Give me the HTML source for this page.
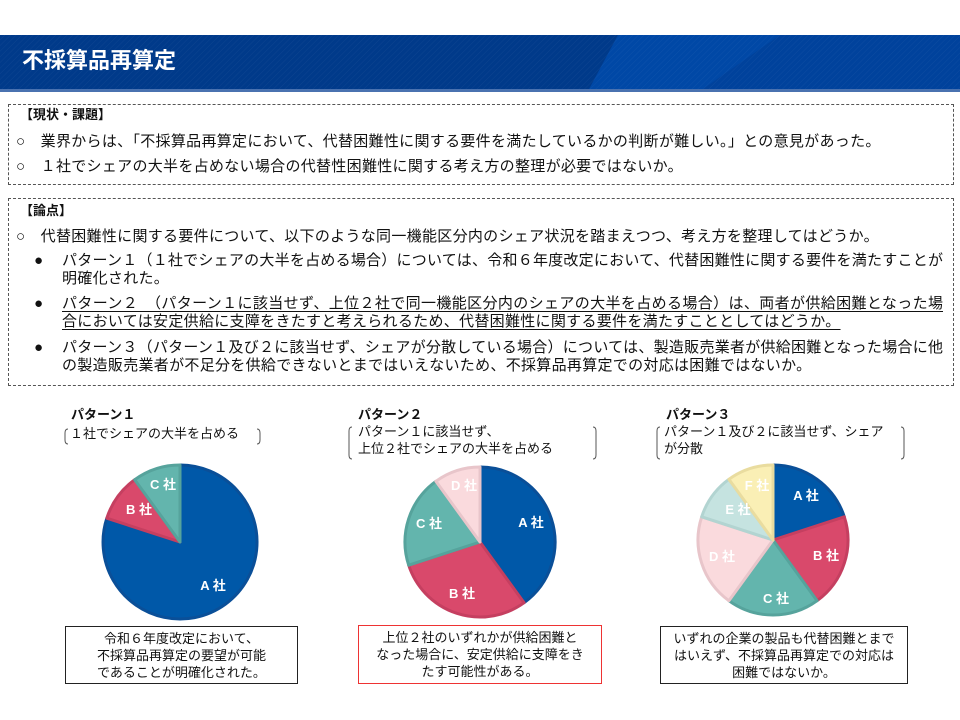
<!DOCTYPE html>
<html><head><meta charset="utf-8"><style>
body{margin:0;width:960px;height:720px;background:#fff;position:relative;overflow:hidden;font-family:"Liberation Sans","Noto Sans CJK JP",sans-serif;color:#111}
.a{position:absolute;white-space:nowrap;line-height:18px}
.t{font-size:15px;letter-spacing:0.3px}
.j{text-align:justify;text-align-last:justify;white-space:normal;letter-spacing:0}
.h{font-size:13px;font-weight:bold}
.u{text-decoration:underline;text-underline-offset:3px}
.box{position:absolute;border:1px dashed #555}
.bb{position:absolute;border:1.5px solid #222;font-size:13px;line-height:17px;text-align:center;display:flex;align-items:center;justify-content:center}
.pt{font-size:13px;font-weight:bold}
.ps{font-size:13px;line-height:17px}
</style></head><body>
<svg style="position:absolute;left:0;top:0" width="960" height="100">
<defs><pattern id="st" width="4" height="4" patternUnits="userSpaceOnUse" patternTransform="rotate(45)"><rect width="4" height="4" fill="none"/><line x1="0" y1="0" x2="0" y2="4" stroke="#ffffff" stroke-opacity="0.05" stroke-width="1"/></pattern></defs>
<rect x="0" y="35" width="960" height="56" fill="#003a8a"/>
<polygon points="618,35 960,35 960,91 588,91" fill="#0048a6"/>
<polygon points="780,35 960,35 960,91 700,91" fill="#003f96" opacity="0.6"/>
<rect x="0" y="35" width="960" height="56" fill="url(#st)"/>
<rect x="0" y="89" width="960" height="3" fill="#4a72b0"/>
</svg>
<div class="a" style="left:22px;top:48px;font-size:22px;line-height:26px;font-weight:bold;color:#fff">不採算品再算定</div>

<div class="box" style="left:8px;top:104px;width:944px;height:79px"></div>
<div class="a h" style="left:20px;top:106px">【現状・課題】</div>
<div class="a t" style="left:16px;top:133px">○　業界からは、「不採算品再算定において、代替困難性に関する要件を満たしているかの判断が難しい。」との意見があった。</div>
<div class="a t" style="left:16px;top:158px">○　１社でシェアの大半を占めない場合の代替性困難性に関する考え方の整理が必要ではないか。</div>

<div class="box" style="left:8px;top:198px;width:944px;height:186px"></div>
<div class="a h" style="left:20px;top:202px">【論点】</div>
<div class="a t" style="left:16px;top:228px">○　代替困難性に関する要件について、以下のような同一機能区分内のシェア状況を踏まえつつ、考え方を整理してはどうか。</div>
<div class="a t" style="left:34px;top:252px">●</div>
<div class="a t j" style="left:62px;top:252px;width:881px">パターン１（１社でシェアの大半を占める場合）については、令和６年度改定において、代替困難性に関する要件を満たすことが</div>
<div class="a t" style="left:62px;top:270px">明確化された。</div>
<div class="a t" style="left:34px;top:295px">●</div>
<div class="a t j u" style="left:62px;top:295px;width:881px">パターン２　（パターン１に該当せず、上位２社で同一機能区分内のシェアの大半を占める場合）は、両者が供給困難となった場</div>
<div class="a t u" style="left:62px;top:313px">合においては安定供給に支障をきたすと考えられるため、代替困難性に関する要件を満たすこととしてはどうか。</div>
<div class="a t" style="left:34px;top:339px">●</div>
<div class="a t j" style="left:62px;top:339px;width:881px">パターン３（パターン１及び２に該当せず、シェアが分散している場合）については、製造販売業者が供給困難となった場合に他</div>
<div class="a t" style="left:62px;top:357px">の製造販売業者が不足分を供給できないとまではいえないため、不採算品再算定での対応は困難ではないか。</div>

<div class="a pt" style="left:71px;top:406px">パターン１</div>
<div class="a ps" style="left:70px;top:425px">１社でシェアの大半を占める</div>
<div class="a pt" style="left:358px;top:406px">パターン２</div>
<div class="a ps" style="left:358px;top:423px">パターン１に該当せず、<br>上位２社でシェアの大半を占める</div>
<div class="a pt" style="left:666px;top:406px">パターン３</div>
<div class="a ps" style="left:664px;top:423px">パターン１及び２に該当せず、シェア<br>が分散</div>

<svg style="position:absolute;left:0;top:0" width="960" height="720">
<g fill="none" stroke="#555" stroke-width="1">
<path d="M68,429 Q65,429 65,433 L65,440 Q65,444 68,444"/>
<path d="M257,429 Q260,429 260,433 L260,440 Q260,444 257,444"/>
<path d="M352,427 Q349,427 349,431 L349,455 Q349,459 352,459"/>
<path d="M593,427 Q596,427 596,431 L596,455 Q596,459 593,459"/>
<path d="M660,427 Q657,427 657,431 L657,455 Q657,459 660,459"/>
<path d="M901,427 Q904,427 904,431 L904,455 Q904,459 901,459"/>
</g>
<g stroke-width="3" stroke-linejoin="round">
<path d="M180,542 L180,465 A77,77 0 1 1 106.8,518.2 Z" fill="#0058a8" stroke="#0a4f98"/>
<path d="M180,542 L106.8,518.2 A77,77 0 0 1 134.7,479.7 Z" fill="#d9496b" stroke="#c53f60"/>
<path d="M180,542 L134.7,479.7 A77,77 0 0 1 180,465 Z" fill="#63b5ad" stroke="#56a39c"/>
<path d="M480,542 L480,467 A75,75 0 0 1 524.1,602.7 Z" fill="#0058a8" stroke="#0a4f98"/>
<path d="M480,542 L524.1,602.7 A75,75 0 0 1 408.7,565.2 Z" fill="#d9496b" stroke="#c53f60"/>
<path d="M480,542 L408.7,565.2 A75,75 0 0 1 435.9,481.3 Z" fill="#63b5ad" stroke="#56a39c"/>
<path d="M480,542 L435.9,481.3 A75,75 0 0 1 480,467 Z" fill="#fadadd" stroke="#e8c5ca"/>
<path d="M773,540 L773,465 A75,75 0 0 1 844.3,516.8 Z" fill="#0058a8" stroke="#0a4f98"/>
<path d="M773,540 L844.3,516.8 A75,75 0 0 1 817.1,600.7 Z" fill="#d9496b" stroke="#c53f60"/>
<path d="M773,540 L817.1,600.7 A75,75 0 0 1 728.9,600.7 Z" fill="#63b5ad" stroke="#56a39c"/>
<path d="M773,540 L728.9,600.7 A75,75 0 0 1 701.7,516.8 Z" fill="#fadadd" stroke="#e8c5ca"/>
<path d="M773,540 L701.7,516.8 A75,75 0 0 1 728.9,479.3 Z" fill="#c5e3e0" stroke="#b2d4d1"/>
<path d="M773,540 L728.9,479.3 A75,75 0 0 1 773,465 Z" fill="#faefb5" stroke="#e9dc9f"/>
</g>
<g fill="#fff" font-size="13" font-weight="bold" font-family="Liberation Sans, Noto Sans CJK JP, sans-serif" text-anchor="middle">
<text x="213" y="590">A 社</text><text x="139" y="514">B 社</text><text x="163" y="489">C 社</text>
<text x="531" y="527">A 社</text><text x="462" y="598">B 社</text><text x="429" y="528">C 社</text><text x="464" y="490">D 社</text>
<text x="806" y="500">A 社</text><text x="826" y="560">B 社</text><text x="776" y="603">C 社</text><text x="722" y="561">D 社</text><text x="738" y="514">E 社</text><text x="757" y="490">F 社</text>
</g>
</svg>

<div class="bb" style="left:65px;top:626px;width:231px;height:56px">令和６年度改定において、<br>不採算品再算定の要望が可能<br>であることが明確化された。</div>
<div class="bb" style="left:358px;top:625px;width:242px;height:57px;border-color:#e33">上位２社のいずれかが供給困難と<br>なった場合に、安定供給に支障をき<br>たす可能性がある。</div>
<div class="bb" style="left:660px;top:626px;width:246px;height:56px">いずれの企業の製品も代替困難とまで<br>はいえず、不採算品再算定での対応は<br>困難ではないか。</div>
</body></html>
